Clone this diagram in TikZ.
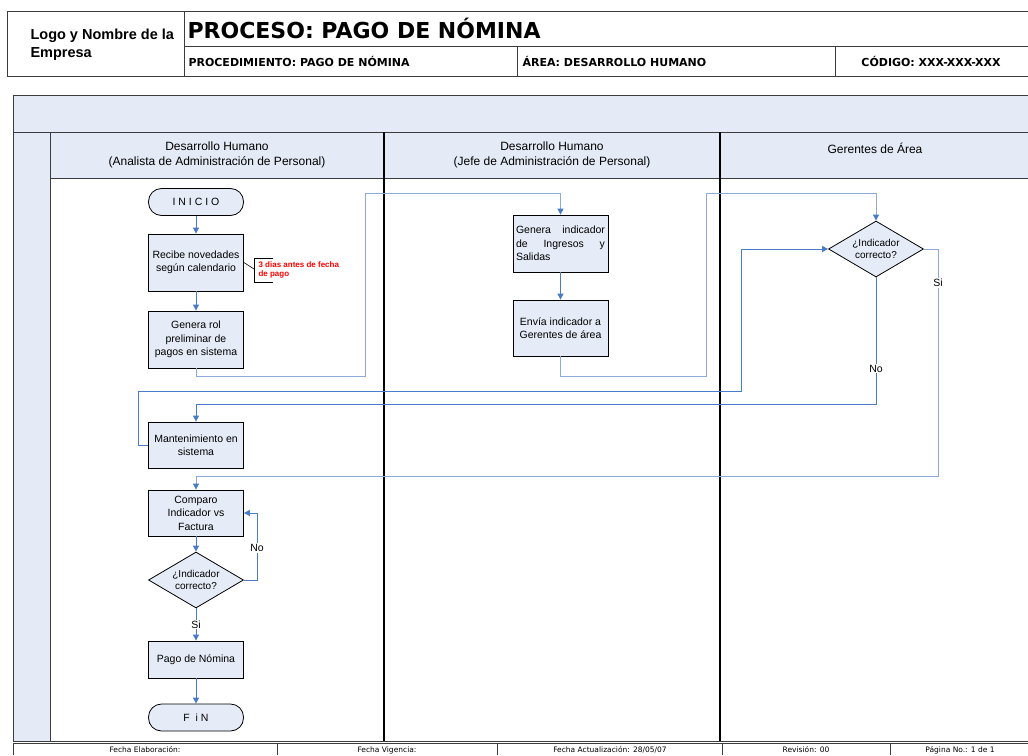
\documentclass[tikz,border=0pt]{standalone}
\usepackage{fontspec}
\setmainfont{Liberation Sans}
\newfontfamily\tahoma{DejaVu Sans}
\usepackage{tikz}
\usetikzlibrary{arrows.meta,shapes.geometric}
\definecolor{laneFill}{HTML}{E4EBF6}
\definecolor{boxFill}{HTML}{E6ECF7}
\definecolor{flowBlue}{HTML}{4A7BC6}
\definecolor{flowLight}{HTML}{8EAADB}
\definecolor{frame}{HTML}{3C3C3C}
\definecolor{noteRed}{HTML}{FF0000}
\tikzset{
  frameLine/.style={draw=frame, line width=0.9pt},
  laneLine/.style={draw=black, line width=1.1pt},
  procBox/.style={draw=black, fill=boxFill, line width=0.8pt, minimum width=95pt, inner sep=2pt, align=center, font=\fontsize{10.5}{13.5}\selectfont},
  termBox/.style={procBox, rounded corners=13pt, minimum height=27pt},
  decBox/.style={diamond, draw=black, fill=boxFill, line width=0.8pt, aspect=1.7, inner sep=0pt, minimum width=95pt, minimum height=56pt, align=center, font=\fontsize{10}{12.5}\selectfont},
  flow/.style={draw=flowBlue, line width=1pt, -{Triangle[length=6pt,width=6pt]}},
  flowLt/.style={draw=flowLight, line width=1pt, -{Triangle[length=6pt,width=6pt,color=flowBlue]}},
  flowLab/.style={fill=white, inner sep=1pt, font=\fontsize{10.5}{12}\selectfont},
  hdrText/.style={font=\tahoma\bfseries\fontsize{11}{13}\selectfont, anchor=west},
  laneText/.style={align=center, font=\fontsize{12}{14.5}\selectfont},
  footText/.style={anchor=base, font=\tahoma\fontsize{7.5}{8}\selectfont}
}

\begin{document}
\begin{tikzpicture}[x=1pt,y=-1pt]
  \useasboundingbox (0,0) rectangle (1028,755);

  % header
  \draw[frameLine] (1028,11) -- (7,11) -- (7,76) -- (1028,76);
  \draw[frameLine] (184,11) -- (184,76);
  \draw[frameLine] (184,46) -- (1028,46);
  \draw[frameLine] (517,46) -- (517,76);
  \draw[frameLine] (835,46) -- (835,76);
  \node (logo) [anchor=west, align=left, font=\bfseries\fontsize{14.5}{18}\selectfont] at (27,45) {Logo y Nombre de la\\Empresa};
  \node (titulo) [anchor=west, font=\tahoma\bfseries\fontsize{22}{26}\selectfont] at (184,28) {PROCESO: PAGO DE NÓMINA};
  \node (proc) [hdrText] at (185,61) {PROCEDIMIENTO: PAGO DE NÓMINA};
  \node (area) [hdrText] at (519,61) {ÁREA: DESARROLLO HUMANO};
  \node (codigo) [hdrText, anchor=center] at (931,61) {CÓDIGO: XXX-XXX-XXX};

  % swimlanes
  \fill[laneFill] (13,95) rectangle (1028,178);
  \fill[laneFill] (13,178) rectangle (50,741);
  \draw[frameLine] (1028,95) -- (13,95) -- (13,741) -- (1028,741);
  \draw[frameLine] (13,132) -- (1028,132);
  \draw[frameLine] (50,178) -- (1028,178);
  \draw[frameLine] (50,132) -- (50,741);
  \draw[laneLine] (384,132) -- (384,741);
  \draw[laneLine] (720,132) -- (720,741);
  \node (lane1) [laneText] at (217,155) {Desarrollo Humano\\(Analista de Administración de Personal)};
  \node (lane2) [laneText] at (552,155) {Desarrollo Humano\\(Jefe de Administración de Personal)};
  \node (lane3) [laneText] at (875,148) {Gerentes de Área};

  % footer
  \draw[frameLine] (13,755) -- (13,743) -- (1028,743);
  \foreach \x in {277,497,722,890}
    \draw[frameLine] (\x,743) -- (\x,755);
  \node (fElab) [footText] at (145,752) {Fecha Elaboración:};
  \node (fVig) [footText] at (387,752) {Fecha Vigencia:};
  \node (fAct) [footText] at (610,752) {Fecha Actualización: 28/05/07};
  \node (rev) [footText] at (806,752) {Revisión: 00};
  \node (pag) [footText] at (960,752) {Página No.: 1 de 1};

  % flow nodes
  \node (inicio) [termBox] at (196,202) {I N I C I O};
  \node (recibe) [procBox, minimum height=57pt] at (196,262.5) {Recibe novedades\\según calendario};
  \node (rol) [procBox, minimum height=57pt] at (196,339.5) {Genera rol\\preliminar de\\pagos en sistema};
  \node (gInd) [procBox, minimum height=57pt, text width=89pt, align=left] at (560.5,243.5) {Genera\hfill indicador\\de\hfill Ingresos\hfill y\\Salidas};
  \node (envia) [procBox, minimum height=56pt] at (560.5,328) {Envía indicador a\\Gerentes de área};
  \node (dec1) [decBox] at (876,249) {¿Indicador\\correcto?};
  \node (mant) [procBox, minimum height=46pt] at (196,445) {Mantenimiento en\\sistema};
  \node (comp) [procBox, minimum height=46pt] at (196,513) {Comparo\\Indicador vs\\Factura};
  \node (dec2) [decBox] at (196,580) {¿Indicador\\correcto?};
  \node (pago) [procBox, minimum height=37pt] at (196,659.5) {Pago de Nómina};
  \node (fin) [termBox] at (196,717.5) {F\ \ i N};

  % note
  \coordinate (nTop) at (273,258);
  \coordinate (nBot) at (273,282);
  \draw[black, line width=0.6pt] (recibe.east) -- (254,269);
  \draw[black, line width=0.6pt] (nTop) -- (254,258) -- (254,282) -- (nBot);
  \node (nota) [anchor=west, align=left, text=noteRed, font=\bfseries\fontsize{8}{9.5}\selectfont] at (255,270) {3 dias antes de fecha\\de pago};

  % connectors
  \coordinate (c1) at (365,376);
  \coordinate (c2) at (365,193);
  \coordinate (c3) at (706,376);
  \coordinate (c4) at (706,193);
  \coordinate (c5) at (876,404);
  \coordinate (c6) at (138,391);
  \coordinate (c7) at (741,391);
  \coordinate (c8) at (938,476);
  \coordinate (c10) at (257,513);

  \draw[flow] (inicio) -- (recibe);
  \draw[flow] (recibe) -- (rol);
  \draw[flowLt] (rol.south) |- (c1) -- (c2) -| (gInd.north);
  \draw[flow] (gInd) -- (envia);
  \draw[flowLt] (envia.south) |- (c3) -- (c4) -| (dec1.north);
  \draw[flow] (dec1.south) -- node[flowLab, pos=0.72] {No} (c5) -| (mant.north);
  \draw[flow] (mant.west) -| (c6) -- (c7) |- (dec1.west);
  \draw[flowLt] (dec1.east) -- (dec1.east -| c8) -- node[flowLab, pos=0.15] {Si} (c8) -| (comp.north);
  \draw[flow] (comp) -- (dec2);
  \draw[flow] (dec2.east) -- (dec2.east -| c10) -- node[flowLab, pos=0.48] {No} (c10) -- (comp.east);
  \draw[flow] (dec2) -- node[flowLab] {Si} (pago);
  \draw[flow] (pago) -- (fin);
\end{tikzpicture}
\end{document}
